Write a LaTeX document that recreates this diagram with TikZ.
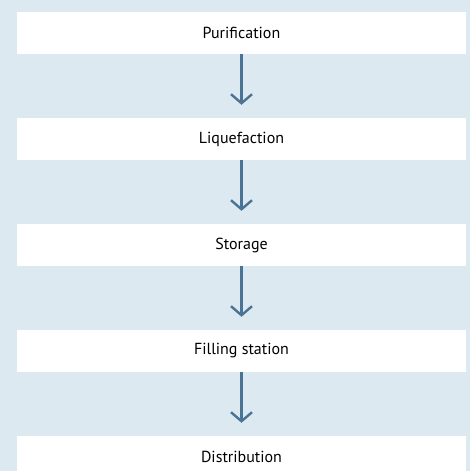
\documentclass[tikz,border=0pt]{standalone}
\usepackage{fontspec}
\setmainfont{PT Sans}
\usetikzlibrary{arrows.meta, positioning}

\definecolor{bgblue}{HTML}{DDE9F1}
\definecolor{arrowblue}{HTML}{4B7494}

\tikzset{
  stage/.style = {fill=white, minimum width=449pt, minimum height=42pt,
                  inner sep=0pt, font=\fontsize{16}{19}\selectfont},
  flow/.style  = {draw=arrowblue, line width=2.4pt, shorten >=13pt,
                  -{Straight Barb[length=9pt, width=21pt, line width=2.4pt]}}
}

\begin{document}
\begin{tikzpicture}[node distance=63.6pt]
    % Background:
    \clip (0,0) rectangle (470pt,-471pt);
    \fill[bgblue] (0,0) rectangle (470pt,-471pt);

    % Stages:
    \node[stage] (pur) at (241.5pt,-33pt) {Purification};
    \node[stage, below=of pur] (liq) {Liquefaction};
    \node[stage, below=of liq] (sto) {Storage};
    \node[stage, below=of sto] (fil) {Filling station};
    \node[stage, below=of fil] (dis) {Distribution};

    % Arrows:
    \draw[flow] (pur) -- (liq);
    \draw[flow] (liq) -- (sto);
    \draw[flow] (sto) -- (fil);
    \draw[flow] (fil) -- (dis);
\end{tikzpicture}
\end{document}
